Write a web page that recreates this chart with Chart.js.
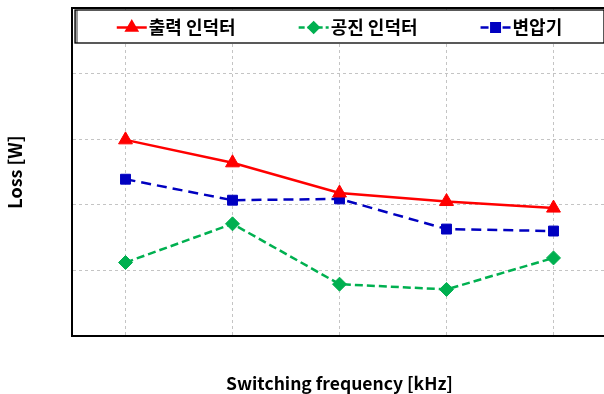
<!DOCTYPE html>
<html>
<head>
<meta charset="utf-8">
<script src="https://cdn.jsdelivr.net/npm/chart.js@4.4.1/dist/chart.umd.min.js"></script>
<style>
  html, body { margin: 0; padding: 0; background: #fff; overflow: hidden; }
  #wrap { width: 604px; height: 394px; position: relative; overflow: hidden; }
  #c { position: absolute; left: 0; top: 0; }
</style>
</head>
<body>
<div id="wrap"><canvas id="c" width="608" height="394"></canvas></div>
<script>
const categories = ['1', '2', '3', '4', '5'];
const outputInductor = [2.99, 2.64, 2.18, 2.05, 1.95];
const resonantInductor = [1.12, 1.71, 0.79, 0.71, 1.19];
const transformer = [2.39, 2.07, 2.09, 1.63, 1.60];
const seriesNames = ['출력 인덕터', '공진 인덕터', '변압기'];
const yMin = 0, yMax = 5;

const FONT_KR = '"Noto Sans CJK KR", "Noto Sans", sans-serif';

const frameLegend = {
  id: 'frameLegend',
  afterDraw(chart) {
    const ctx = chart.ctx;
    const a = chart.chartArea;
    ctx.save();
    ctx.strokeStyle = '#000';
    ctx.lineWidth = 2;
    ctx.beginPath();
    ctx.moveTo(a.left, a.top);
    ctx.lineTo(a.right + 2, a.top);
    ctx.stroke();
    const bx = a.left + 3, by = a.top + 2, bh = 33;
    const bw = a.right - bx - 3;
    ctx.fillStyle = '#fff';
    ctx.fillRect(bx, by, bw, bh);
    ctx.fillStyle = '#9a9a9a';
    ctx.fillRect(bx, by, 3, bh);
    ctx.strokeStyle = '#000';
    ctx.lineWidth = 1.3;
    ctx.strokeRect(bx, by, bw, bh);
    ctx.font = 'bold 18px ' + FONT_KR;
    ctx.textBaseline = 'middle';
    const lineLen = 30, tgap = 2, igap = 63;
    const ds = chart.data.datasets;
    const widths = ds.map(d => lineLen + tgap + ctx.measureText(d.label).width);
    const total = widths.reduce((s, w) => s + w, 0) + igap * (ds.length - 1);
    let x = (a.left + a.right) / 2 - total / 2;
    const cy = by + bh / 2 + 1;
    ds.forEach((d, i) => {
      ctx.save();
      ctx.strokeStyle = d.borderColor;
      ctx.lineWidth = 2.5;
      ctx.setLineDash(d.legendDash);
      ctx.beginPath();
      ctx.moveTo(x, cy);
      ctx.lineTo(x + lineLen, cy);
      ctx.stroke();
      ctx.setLineDash([]);
      ctx.fillStyle = d.pointBackgroundColor;
      ctx.strokeStyle = d.pointBorderColor;
      Chart.helpers.drawPoint(ctx, {pointStyle: d.pointStyle, radius: d.legendRadius, borderWidth: 1, rotation: 0}, x + lineLen / 2, cy);
      ctx.restore();
      ctx.fillStyle = '#000';
      ctx.textAlign = 'left';
      ctx.fillText(d.label, x + lineLen + tgap, cy);
      x += widths[i] + igap;
    });
    ctx.restore();
  }
};

new Chart(document.getElementById('c'), {
  type: 'line',
  data: {
    labels: categories,
    datasets: [
      {
        label: seriesNames[0], data: outputInductor,
        borderColor: '#ff0000', backgroundColor: '#ff0000',
        pointBackgroundColor: '#ff0000', pointBorderColor: '#ff0000',
        borderWidth: 2.5, pointStyle: 'triangle', pointRadius: 8, pointBorderWidth: 1,
        legendDash: [], legendRadius: 6
      },
      {
        label: seriesNames[1], data: resonantInductor,
        borderColor: '#00b050', backgroundColor: '#00b050',
        pointBackgroundColor: '#00b050', pointBorderColor: '#00b050',
        borderWidth: 2.5, borderDash: [8, 4], pointStyle: 'rectRot', pointRadius: 7, pointBorderWidth: 1,
        legendDash: [6, 3], legendRadius: 5
      },
      {
        label: seriesNames[2], data: transformer,
        borderColor: '#0000c0', backgroundColor: '#0000c0',
        pointBackgroundColor: '#0000c0', pointBorderColor: '#0000c0',
        borderWidth: 2.5, borderDash: [10, 6], pointStyle: 'rect', pointRadius: 7, pointBorderWidth: 1,
        legendDash: [8, 3], legendRadius: 6
      }
    ]
  },
  options: {
    responsive: false,
    animation: false,
    layout: { autoPadding: false, padding: { top: 8, right: 1, left: 0, bottom: 0 } },
    plugins: { legend: { display: false }, tooltip: { enabled: false } },
    scales: {
      x: {
        offset: true,
        grid: { offset: false, color: '#c4c4c4', lineWidth: 1, drawTicks: false },
        border: { display: true, color: '#000', width: 2, dash: [3, 3] },
        ticks: { display: false },
        title: { display: true, text: 'Switching frequency [kHz]', color: '#000',
                 font: { family: FONT_KR, size: 17.5, weight: 'bold', lineHeight: 1.2 },
                 padding: { top: 0, bottom: 0 } },
        afterFit(s) { s.height = 58; }
      },
      y: {
        min: yMin, max: yMax,
        ticks: { display: false, stepSize: 1 },
        grid: { color: '#c4c4c4', lineWidth: 1, drawTicks: false },
        border: { display: true, color: '#000', width: 2, dash: [3, 3] },
        title: { display: true, text: 'Loss [W]', color: '#000',
                 font: { family: FONT_KR, size: 18, weight: 'bold', lineHeight: 1.2 },
                 padding: { top: 4, bottom: 0 } },
        afterFit(s) { s.width = 72; }
      }
    }
  },
  plugins: [frameLegend]
});
</script>
</body>
</html>
